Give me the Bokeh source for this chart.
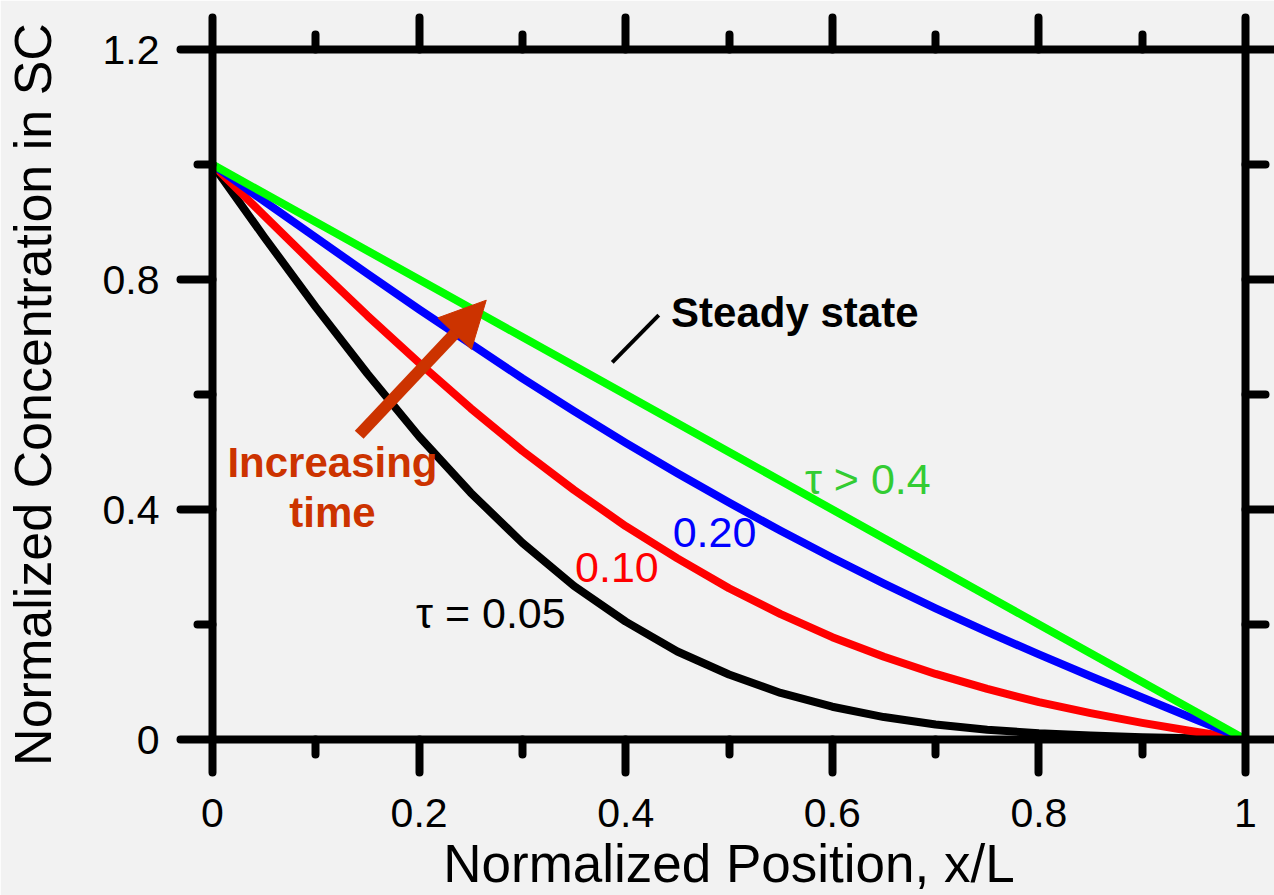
from bokeh.plotting import figure
from bokeh.models import (LinearAxis, FixedTicker, Range1d, Label, Arrow, NormalHead,
                          CustomJSTickFormatter)
from bokeh.embed import file_html
from bokeh.resources import INLINE

# ---------------- data ----------------
x_pos = [0.00, 0.05, 0.10, 0.15, 0.20, 0.25, 0.30, 0.35, 0.40, 0.45, 0.50,
         0.55, 0.60, 0.65, 0.70, 0.75, 0.80, 0.85, 0.90, 0.95, 1.00]
tau_005 = [1.000, 0.874, 0.752, 0.636, 0.527, 0.429, 0.342, 0.267, 0.205, 0.153, 0.113,
           0.081, 0.057, 0.039, 0.026, 0.017, 0.011, 0.007, 0.004, 0.002, 0.000]
tau_010 = [1.000, 0.911, 0.823, 0.737, 0.655, 0.576, 0.502, 0.434, 0.371, 0.315, 0.263,
           0.218, 0.178, 0.144, 0.114, 0.088, 0.065, 0.046, 0.029, 0.014, 0.000]
tau_020 = [1.000, 0.936, 0.873, 0.810, 0.748, 0.688, 0.628, 0.571, 0.516, 0.463, 0.412,
           0.363, 0.316, 0.271, 0.228, 0.187, 0.148, 0.110, 0.073, 0.036, 0.000]
steady = [1.00, 0.95, 0.90, 0.85, 0.80, 0.75, 0.70, 0.65, 0.60, 0.55, 0.50,
          0.45, 0.40, 0.35, 0.30, 0.25, 0.20, 0.15, 0.10, 0.05, 0.00]

x_ticks = [0, 0.2, 0.4, 0.6, 0.8, 1.0]
x_tick_labels = ["0", "0.2", "0.4", "0.6", "0.8", "1"]
x_minor = [0.1, 0.3, 0.5, 0.7, 0.9]
y_ticks = [0, 0.4, 0.8, 1.2]
y_tick_labels = ["0", "0.4", "0.8", "1.2"]
y_minor = [0.2, 0.6, 1.0]

BG = "#f2f2f2"
ORANGE = "#cc3300"
FONT = "Liberation Sans"

p = figure(width=1274, height=895,
           x_range=Range1d(0, 1), y_range=Range1d(0, 1.2),
           output_backend="svg", toolbar_location=None,
           min_border_left=211, min_border_right=29,
           min_border_top=49, min_border_bottom=155,
           background_fill_color=BG, border_fill_color=BG,
           outline_line_color=None)
p.grid.visible = False


def style(ax, ticks, minor, major_out, minor_out, labels=None, standoff=20):
    ax.ticker = FixedTicker(ticks=ticks, minor_ticks=minor)
    ax.axis_line_width = 8
    ax.axis_line_color = "black"
    ax.major_tick_line_width = 8
    ax.minor_tick_line_width = 8
    ax.major_tick_line_color = "black"
    ax.minor_tick_line_color = "black"
    ax.major_tick_line_cap = "round"
    ax.minor_tick_line_cap = "round"
    ax.major_tick_in = 0
    ax.minor_tick_in = 0
    ax.major_tick_out = major_out
    ax.minor_tick_out = minor_out
    if labels:
        ax.major_label_overrides = dict(zip(ticks, labels))
        ax.major_label_text_font = FONT
        ax.major_label_text_font_size = "41px"
        ax.major_label_text_color = "black"
        ax.major_label_standoff = standoff
    else:
        ax.formatter = CustomJSTickFormatter(code="return '';")
        ax.major_label_text_font_size = "1px"
        ax.major_label_standoff = 0


xa = p.xaxis[0]
style(xa, x_ticks, x_minor, 33, 15, x_tick_labels, 26)
xa.axis_label = "Normalized Position, x/L"
xa.axis_label_text_font = FONT
xa.axis_label_text_font_size = "53px"
xa.axis_label_text_font_style = "normal"
xa.axis_label_text_color = "black"
xa.axis_label_standoff = 4

ya = p.yaxis[0]
style(ya, y_ticks, y_minor, 32, 15, y_tick_labels, 21)
ya.axis_label = "Normalized Concentration in SC"
ya.axis_label_text_font = FONT
ya.axis_label_text_font_size = "52px"
ya.axis_label_text_font_style = "normal"
ya.axis_label_text_color = "black"
ya.axis_label_standoff = 38

top = LinearAxis()
style(top, x_ticks, x_minor, 32, 15)
p.add_layout(top, "above")
right = LinearAxis()
style(right, y_ticks, y_minor, 28, 20)
p.add_layout(right, "right")

# curves
p.line(x_pos, tau_005, line_color="black", line_width=8, line_cap="round", line_join="round")
p.line(x_pos, tau_010, line_color="#ff0000", line_width=8, line_cap="round", line_join="round")
p.line(x_pos, tau_020, line_color="#0000ff", line_width=8, line_cap="round", line_join="round")
p.line(x_pos, steady, line_color="#00ff00", line_width=8, line_cap="round", line_join="round")

# leader line for steady state
p.segment(x0=[0.387], y0=[0.656], x1=[0.432], y1=[0.738], line_color="black", line_width=4)

# arrow
p.add_layout(Arrow(end=NormalHead(size=46, fill_color=ORANGE, line_color=ORANGE, line_width=1),
                   x_start=0.142, y_start=0.530, x_end=0.265, y_end=0.764,
                   line_width=12, line_color=ORANGE))


def lab(x, y, text, color="black", size="43px", style="normal", align="left"):
    p.add_layout(Label(x=x, y=y, text=text, text_color=color, text_font=FONT,
                       text_font_size=size, text_font_style=style, text_align=align,
                       text_baseline="middle"))


lab(0.4439, 0.7434, "Steady state", size="42px", style="bold")
lab(0.5735, 0.4539, "\u03c4 > 0.4", color="#33cc33")
lab(0.4455, 0.3602, "0.20", color="#0000ff")
lab(0.3510, 0.2994, "0.10", color="#ff0000")
lab(0.1970, 0.2195, "\u03c4 = 0.05")
lab(0.1161, 0.4812, "Increasing", color=ORANGE, size="42px", style="bold", align="center")
lab(0.1161, 0.3944, "time", color=ORANGE, size="42px", style="bold", align="center")

open("out.html", "w").write(file_html(p, INLINE, title="plot"))
